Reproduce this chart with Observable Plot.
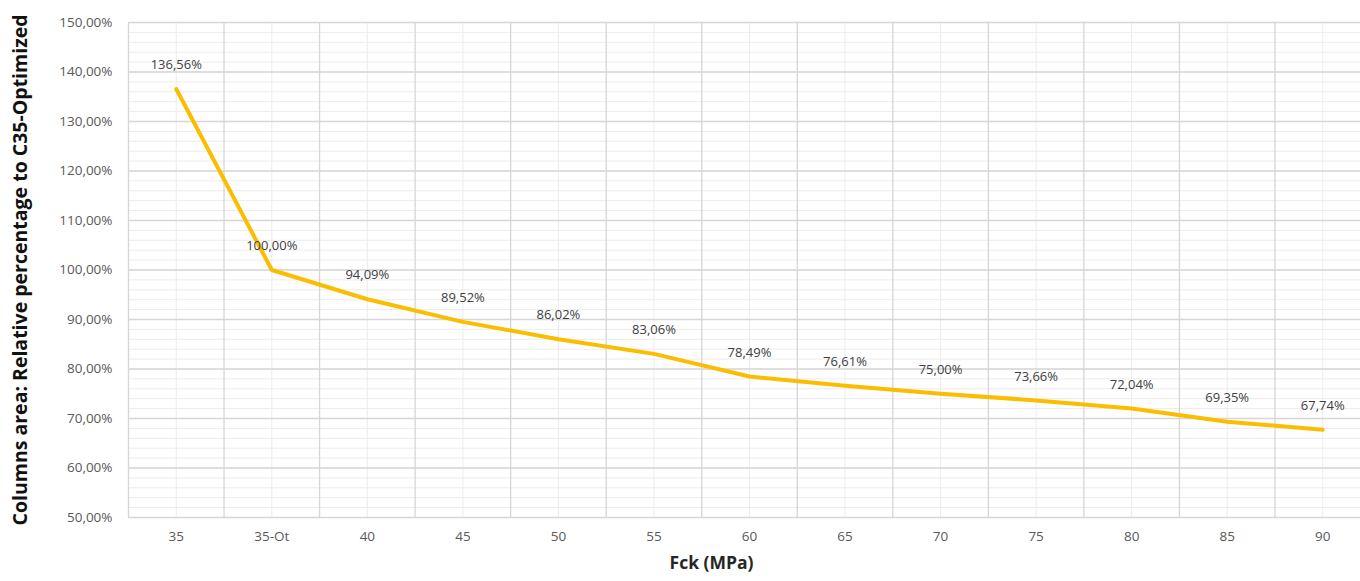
<!DOCTYPE html>
<html>
<head>
<meta charset="utf-8">
<script src="https://cdn.jsdelivr.net/npm/d3@7"></script>
<script src="https://cdn.jsdelivr.net/npm/@observablehq/plot@0.6"></script>
<style>
  html, body { margin: 0; padding: 0; background: #fff; }
  #chart svg { display: block; }
</style>
</head>
<body>
<div id="chart"></div>
<script>
const categories = ["35", "35-Ot", "40", "45", "50", "55", "60", "65", "70", "75", "80", "85", "90"];
const values = [136.56, 100.00, 94.09, 89.52, 86.02, 83.06, 78.49, 76.61, 75.00, 73.66, 72.04, 69.35, 67.74];
const yMajorTicks = [50, 60, 70, 80, 90, 100, 110, 120, 130, 140, 150];
const yMinorTicks = d3.range(50, 151, 2);

const fmt = v => v.toFixed(2).replace(".", ",") + "%";
const data = categories.map((c, i) => ({i, c, v: values[i]}));
const idx = categories.map((c, i) => i);
const bounds = d3.range(-0.5, categories.length, 1);

const font = "'Open Sans', 'Noto Sans', sans-serif";

const chart = Plot.plot({
  width: 1360,
  height: 581,
  marginTop: 22,
  marginBottom: 64,
  marginLeft: 128,
  marginRight: -10,
  style: {fontFamily: font, fontSize: "13px", color: "#595959", background: "#fff", overflow: "visible"},
  x: {domain: [-0.5, categories.length - 0.5], axis: null},
  y: {domain: [50, 150], axis: null},
  marks: [
    Plot.ruleY(yMinorTicks, {stroke: "#ececec", strokeWidth: 1}),
    Plot.ruleX(idx, {stroke: "#ececec", strokeWidth: 1}),
    Plot.ruleY(yMajorTicks, {stroke: "#d6d6d6", strokeWidth: 1.3}),
    Plot.ruleX(bounds, {stroke: "#d6d6d6", strokeWidth: 1.3}),
    Plot.axisY(yMajorTicks, {tickSize: 0, tickPadding: 16, tickFormat: fmt, fill: "#595959", fontSize: 13.5, label: null}),
    Plot.axisX(idx, {tickSize: 0, tickPadding: 14, tickFormat: i => categories[i], fill: "#595959", fontSize: 13.5, label: null}),
    Plot.text(["Fck (MPa)"], {frameAnchor: "bottom", dx: -38, dy: 51, text: d => d, fontWeight: "bold", fontSize: 17.5, fill: "#262626"}),
    Plot.text(["Columns area: Relative percentage to C35-Optimized"], {frameAnchor: "left", dx: -108, rotate: -90, textAnchor: "middle", text: d => d, fontWeight: "bold", fontSize: 19.5, fill: "#111"}),
    Plot.line(data, {x: "i", y: "v", stroke: "#FABD00", strokeWidth: 4, curve: "linear", strokeLinejoin: "round"}),
    Plot.text(data, {x: "i", y: "v", text: d => fmt(d.v), dy: -24, fill: "#404040", fontSize: 13})
  ]
});
document.getElementById("chart").appendChild(chart);
</script>
</body>
</html>
